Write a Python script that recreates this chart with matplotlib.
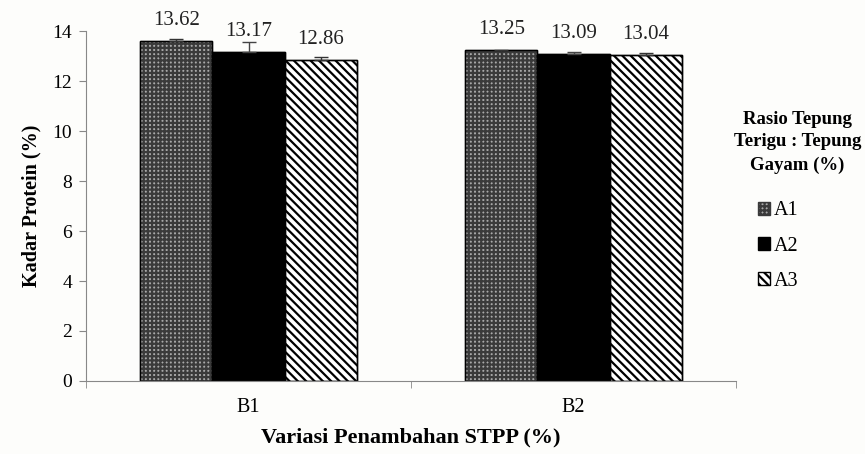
import numpy as np
import matplotlib.pyplot as plt

# data
kelompok = ["B1", "B2"]
seri = ["A1", "A2", "A3"]
a1 = [13.62, 13.25]
a2 = [13.17, 13.09]
a3 = [12.86, 13.04]
err_bawah = [[0.0, 0.37], [0.0, 0.0], [0.0, 0.0]]
err_atas = [[0.08, 0.0], [0.39, 0.09], [0.10, 0.10]]

plt.rcParams["font.family"] = ["Liberation Serif", "DejaVu Serif"]
plt.rcParams["hatch.linewidth"] = 1.6

fig = plt.figure(figsize=(8.65, 4.54), dpi=100, facecolor="#fdfdfb")
ax = fig.add_axes([0.0994, 0.1608, 0.7516, 0.7709])
ax.set_facecolor("#fdfdfb")

x = np.arange(len(kelompok))
w = 0.2225
gaya = [
    dict(facecolor="#a8a8a8", hatch="++++", edgecolor="#3a3a3a"),
    dict(facecolor="#000000", edgecolor="#000000"),
    dict(facecolor="#ffffff", hatch="\\\\\\\\", edgecolor="#000000"),
]
nilai = [a1, a2, a3]
for i, (nama, v) in enumerate(zip(seri, nilai)):
    pos = x + (i - 1) * w
    ax.bar(pos, v, w, label=nama, linewidth=1.0, **gaya[i])
    ax.bar(pos, v, w, facecolor="none", edgecolor="black", linewidth=1.0)
    ax.errorbar(pos, v, yerr=[err_bawah[i], err_atas[i]], fmt="none",
                ecolor="#333333" if i != 1 else "#444444", elinewidth=1, capsize=5)
    for p, val in zip(pos, v):
        ax.annotate(f"{val:.2f}", (p, val), xytext=(0, 14.5), textcoords="offset points",
                    ha="center", va="center", fontsize=15, color="#222222")

ax.set_xlim(-0.5, 1.5)
ax.set_ylim(0, 14)
ax.set_yticks(range(0, 15, 2))
ax.set_xticks(x)
ax.set_xticklabels(kelompok, fontsize=14.5)
ax.set_xticks([-0.5, 0.5, 1.5], minor=True)
ax.tick_params(axis="x", which="major", length=0, pad=12)
ax.tick_params(axis="x", which="minor", length=5, color="#888888")
ax.tick_params(axis="y", length=5, color="#888888", labelsize=14, pad=5)
for s in ["top", "right"]:
    ax.spines[s].set_visible(False)
for s in ["left", "bottom"]:
    ax.spines[s].set_color("#888888")

ax.set_ylabel("Kadar Protein (%)", fontsize=14.5, fontweight="bold", labelpad=8)
ax.set_xlabel("Variasi Penambahan STPP (%)", fontsize=16, fontweight="bold", labelpad=8)

fig.text(0.922, 0.687, "Rasio Tepung\nTerigu : Tepung\nGayam (%)", ha="center", va="center",
         fontsize=13.5, fontweight="bold", linespacing=1.45)
leg = ax.legend(loc="center left", bbox_to_anchor=(0.867, 0.458), bbox_transform=fig.transFigure,
                borderaxespad=0, frameon=False, fontsize=14.5, handlelength=0.6, handleheight=0.6,
                handletextpad=0.2, labelspacing=0.8)

fig.savefig("out.png", dpi=100, facecolor=fig.get_facecolor())
